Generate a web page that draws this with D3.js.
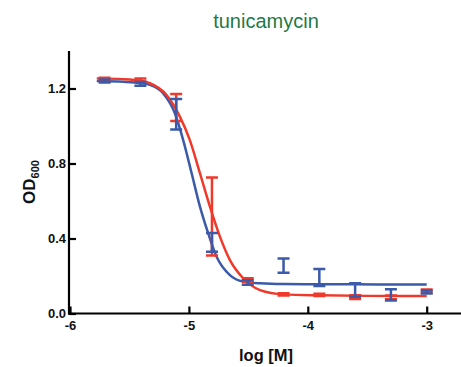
<!DOCTYPE html>
<html lang="en">
<head>
    <meta charset="UTF-8">
    <script src="https://d3js.org/d3.v7.min.js"></script>
    <title>tunicamycin</title>
    <style>
        body { margin: 0; background: #fff; }
        text { font-family: Arial, "Liberation Sans", sans-serif; }
    </style>
</head>
<body>
    <svg width="461" height="367" id="chart"></svg>
<script>
    // dose points (log molar), two-fold dilutions
    var logConc = [-5.709, -5.408, -5.107, -4.806, -4.505, -4.204, -3.903, -3.602, -3.301, -3.0];
    var blueMean = [1.240, 1.225, 1.063, 0.380, 0.165, 0.256, 0.192, 0.125, 0.100, 0.115];
    var blueErr  = [0.008, 0.010, 0.081, 0.050, 0.012, 0.038, 0.045, 0.036, 0.030, 0.008];
    var redMean  = [1.252, 1.245, 1.099, 0.518, 0.178, 0.102, 0.099, 0.087, 0.086, 0.120];
    var redErr   = [0.006, 0.008, 0.072, 0.208, 0.010, 0.006, 0.006, 0.010, 0.010, 0.008];

    // fitted curves
    var blueCurveX = [-5.775, -5.55, -5.40, -5.328, -5.216, -5.118, -5.048, -4.977, -4.907, -4.838, -4.767, -4.655, -4.543, -4.402, -4.2, -3.8, -3.4, -3.0];
    var blueCurveY = [1.240, 1.236, 1.228, 1.219, 1.174, 1.068, 0.925, 0.748, 0.570, 0.428, 0.303, 0.205, 0.170, 0.161, 0.157, 0.156, 0.155, 0.155];
    var redCurveX = [-5.775, -5.55, -5.40, -5.328, -5.188, -5.076, -4.992, -4.907, -4.823, -4.739, -4.655, -4.543, -4.402, -4.2, -3.9, -3.5, -3.0];
    var redCurveY = [1.254, 1.250, 1.240, 1.228, 1.165, 1.050, 0.925, 0.748, 0.570, 0.410, 0.285, 0.188, 0.125, 0.102, 0.097, 0.094, 0.093];

    var xTicks = [-6, -5, -4, -3];
    var xTickLabels = ['-6', '-5', '-4', '-3'];
    var yTicks = [0, 0.4, 0.8, 1.2];
    var yTickLabels = ['0.0', '0.4', '0.8', '1.2'];

    var blue = '#3b5aa9';
    var red = '#ef3a2b';

    var svg = d3.select('#chart');

    var x = d3.scaleLinear()
        .domain([-6, -3])
        .range([70, 426.7]);
    var y = d3.scaleLinear()
        .domain([0, 1.2])
        .range([313.5, 88.5]);

    var xAxis = d3.axisBottom(x)
        .tickValues(xTicks)
        .tickSize(-7)
        .tickPadding(7)
        .tickFormat(function(d, i){ return xTickLabels[i]; });
    var yAxis = d3.axisLeft(y)
        .tickValues(yTicks)
        .tickSize(-7)
        .tickPadding(3)
        .tickFormat(function(d, i){ return yTickLabels[i]; });

    var gx = svg.append('g')
        .attr('transform', 'translate(0,' + y(0) + ')')
        .call(xAxis);
    gx.select('.domain').attr('d', 'M68,0H461');

    var gy = svg.append('g')
        .attr('transform', 'translate(69,0)')
        .call(yAxis);
    gy.select('.domain').attr('d', 'M0,' + (y(0) + 1) + 'V' + y(1.4));

    svg.selectAll('.domain, .tick line')
        .attr('stroke', '#000')
        .attr('stroke-width', 2.2);
    svg.selectAll('.tick text')
        .attr('font-size', 13)
        .attr('font-weight', 'bold')
        .attr('fill', '#111');

    var line = d3.line()
        .x(function(d){ return x(d[0]); })
        .y(function(d){ return y(d[1]); })
        .curve(d3.curveMonotoneX);

    var series = [
        {color: blue, cx: blueCurveX, cy: blueCurveY, mean: blueMean, err: blueErr},
        {color: red, cx: redCurveX, cy: redCurveY, mean: redMean, err: redErr}
    ];

    series.forEach(function(s){
        svg.append('path')
            .datum(d3.zip(s.cx, s.cy))
            .attr('d', line)
            .attr('fill', 'none')
            .attr('stroke', s.color)
            .attr('stroke-width', 2.5);
    });

    var cap = 6;
    series.slice().reverse().forEach(function(s){
        var g = svg.append('g')
            .attr('stroke', s.color)
            .attr('stroke-width', 2.5)
            .attr('fill', 'none');
        logConc.forEach(function(c, i){
            var px = x(c);
            var top = y(s.mean[i] + s.err[i]);
            var bot = y(s.mean[i] - s.err[i]);
            g.append('path')
                .attr('d', 'M' + px + ',' + top + 'V' + bot +
                    'M' + (px - cap) + ',' + top + 'H' + (px + cap) +
                    'M' + (px - cap) + ',' + bot + 'H' + (px + cap));
        });
    });

    svg.append('text')
        .attr('x', 266)
        .attr('y', 28)
        .attr('text-anchor', 'middle')
        .attr('font-size', 20)
        .attr('fill', '#1f7a45')
        .text('tunicamycin');

    svg.append('text')
        .attr('x', 266)
        .attr('y', 361)
        .attr('text-anchor', 'middle')
        .attr('font-size', 16.5)
        .attr('font-weight', 'bold')
        .attr('fill', '#111')
        .text('log [M]');

    var ylab = svg.append('text')
        .attr('transform', 'translate(35,182) rotate(-90)')
        .attr('text-anchor', 'middle')
        .attr('font-size', 17)
        .attr('font-weight', 'bold')
        .attr('fill', '#111');
    ylab.append('tspan').text('OD');
    ylab.append('tspan')
        .attr('font-size', 11)
        .attr('dy', 4)
        .text('600');
</script>
</body>
</html>
